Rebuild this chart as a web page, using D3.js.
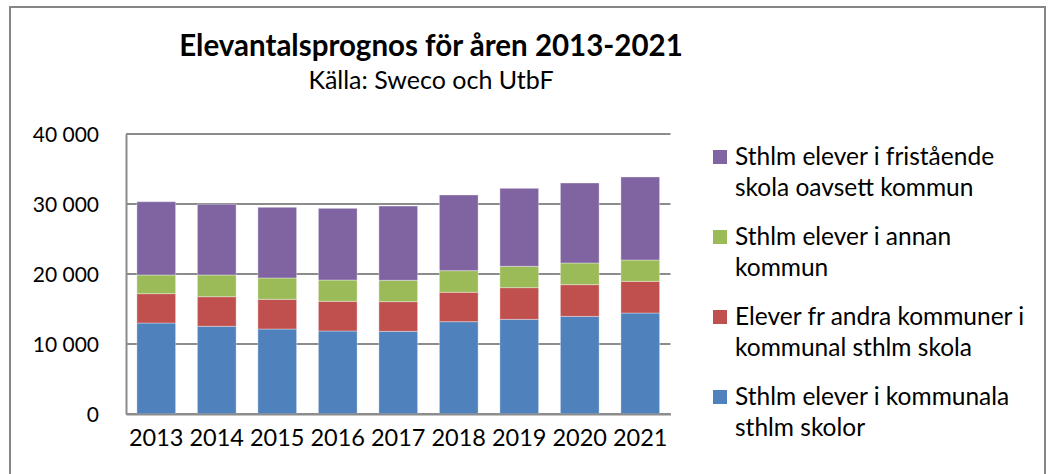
<!DOCTYPE html>
<html>
<head>
<meta charset="utf-8">
<script src="https://cdn.jsdelivr.net/npm/d3@7"></script>
<style>
  body { margin: 0; background: #fff; }
  #chart { width: 1051px; height: 474px; }
  text { font-family: Lato, "Open Sans", sans-serif; fill: #000; }
</style>
</head>
<body>
<div id="chart"></div>
<script>
const years = ["2013", "2014", "2015", "2016", "2017", "2018", "2019", "2020", "2021"];

// stack order: bottom to top
const kommunala = [13000, 12530, 12140, 11860, 11810, 13190, 13520, 13950, 14430];
const andraKommuner = [4190, 4230, 4240, 4240, 4240, 4200, 4530, 4530, 4520];
const annanKommun = [2670, 3100, 3050, 3040, 3050, 3090, 3050, 3090, 3050];
const fristaende = [10470, 10100, 10100, 10240, 10610, 10810, 11140, 11430, 11860];

const yTicks = [0, 10000, 20000, 30000, 40000];

const seriesNames = [
  ["Sthlm elever i kommunala", "sthlm skolor"],
  ["Elever fr andra kommuner i", "kommunal sthlm skola"],
  ["Sthlm elever i annan", "kommun"],
  ["Sthlm elever i fristående", "skola oavsett kommun"],
];
const seriesColors = ["#4f81bd", "#c0504d", "#9bbb59", "#8064a2"];

class StackedChart {
  constructor(el) {
    this.el = el;
    this.initChart();
  }

  initChart() {
    const that = this;
    const width = 1051;
    const height = 474;

    const svg = d3
      .select(`#${this.el}`)
      .append("svg")
      .attr("width", width)
      .attr("height", height);

    // outer chart frame
    svg
      .append("rect")
      .attr("x", 10)
      .attr("y", 7)
      .attr("width", 1035)
      .attr("height", 500)
      .attr("fill", "none")
      .attr("stroke", "#868686")
      .attr("stroke-width", 2);

    svg
      .append("text")
      .attr("x", 431)
      .attr("y", 56)
      .attr("text-anchor", "middle")
      .style("font-size", "29.5px")
      .style("font-weight", "bold")
      .text("Elevantalsprognos för åren 2013-2021");

    svg
      .append("text")
      .attr("x", 431)
      .attr("y", 89)
      .attr("text-anchor", "middle")
      .style("font-size", "25px")
      .text("Källa: Sweco och UtbF");

    const margin = { left: 126, top: 134, right: 1051 - 670.5, bottom: 474 - 414 };
    const innerWidth = width - margin.left - margin.right;
    const innerHeight = height - margin.top - margin.bottom;

    that.xScale = d3
      .scaleBand()
      .domain(years)
      .range([0, innerWidth])
      .paddingInner(0.36)
      .paddingOuter(0.18);
    that.yScale = d3.scaleLinear().domain([0, 40000]).range([innerHeight, 0]);

    const mainGroup = svg
      .append("g")
      .attr("class", "mainGroup")
      .attr("transform", `translate(${margin.left},${margin.top})`);

    // gridlines
    mainGroup
      .selectAll(".grid")
      .data(yTicks)
      .join("line")
      .attr("class", "grid")
      .attr("x1", 0)
      .attr("x2", innerWidth)
      .attr("y1", (d) => that.yScale(d))
      .attr("y2", (d) => that.yScale(d))
      .attr("stroke", "#8c8c8c")
      .attr("stroke-width", 2);

    const rows = years.map((y, i) => ({
      year: y,
      s0: kommunala[i],
      s1: andraKommuner[i],
      s2: annanKommun[i],
      s3: fristaende[i],
    }));
    const stacked = d3.stack().keys(["s0", "s1", "s2", "s3"])(rows);

    mainGroup
      .selectAll(".layer")
      .data(stacked)
      .join("g")
      .attr("class", "layer")
      .attr("fill", (d, i) => seriesColors[i])
      .selectAll("rect")
      .data((d) => d)
      .join("rect")
      .attr("x", (d) => that.xScale(d.data.year))
      .attr("width", that.xScale.bandwidth())
      .attr("y", (d) => that.yScale(d[1]))
      .attr("height", (d) => that.yScale(d[0]) - that.yScale(d[1]))
      .attr("stroke", "#ffffff")
      .attr("stroke-opacity", 0.35)
      .attr("stroke-width", 1);

    // y axis
    const locale = d3.formatLocale({ decimal: ",", thousands: " ", grouping: [3], currency: ["", " kr"] });
    const yAxis = d3
      .axisLeft(that.yScale)
      .tickValues(yTicks)
      .tickSize(0)
      .tickPadding(27)
      .tickFormat(locale.format(",d"));
    const yG = mainGroup.append("g").attr("class", "y-axis").call(yAxis);
    yG.select(".domain").attr("stroke", "#8c8c8c").attr("stroke-width", 2);
    yG.selectAll("text").style("font-size", "21px").attr("dy", "0.36em");

    // x axis
    const xAxis = d3.axisBottom(that.xScale).tickSize(0).tickPadding(15);
    const xG = mainGroup
      .append("g")
      .attr("class", "x-axis")
      .attr("transform", `translate(0,${innerHeight})`)
      .call(xAxis);
    xG.select(".domain").attr("stroke", "#8c8c8c").attr("stroke-width", 2);
    xG.selectAll("text").style("font-size", "23.5px");

    // legend, top entry is the top of the stack
    const legend = svg
      .append("g")
      .attr("class", "legend")
      .attr("transform", "translate(713,150)");
    const order = [3, 2, 1, 0];
    const items = legend
      .selectAll(".item")
      .data(order)
      .join("g")
      .attr("class", "item")
      .attr("transform", (d, i) => `translate(0,${i * 80})`);
    items
      .append("rect")
      .attr("width", 14)
      .attr("height", 14)
      .attr("fill", (d) => seriesColors[d]);
    items
      .append("text")
      .attr("x", 22)
      .attr("y", 15)
      .style("font-size", "24.5px")
      .selectAll("tspan")
      .data((d) => seriesNames[d])
      .join("tspan")
      .attr("x", 22)
      .attr("dy", (d, i) => (i === 0 ? 0 : 31))
      .text((d) => d);
  }
}

new StackedChart("chart");
</script>
</body>
</html>
